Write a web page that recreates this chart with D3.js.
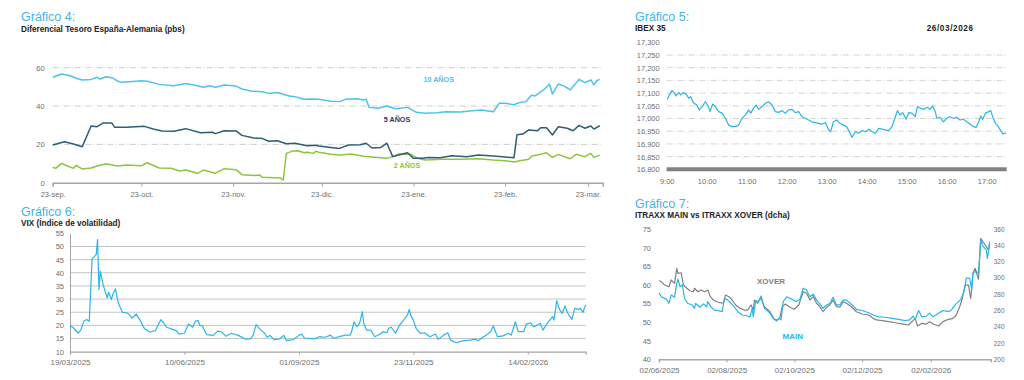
<!DOCTYPE html>
<html>
<head>
<meta charset="utf-8">
<script src="https://cdn.jsdelivr.net/npm/d3@7"></script>
<style>
  body { margin: 0; background: #fff; }
  svg { display: block; font-family: "Liberation Sans", Arial, sans-serif; }
  .title { fill: #41b6e6; font-size: 12.5px; }
  .sub { fill: #222; font-size: 8.2px; font-weight: bold; }
  .tick text { fill: #6f6f6f; }
</style>
</head>
<body>
<script>
// ---------- Gráfico 4: diferencial España-Alemania (pbs) ----------
const y10 = [["2025-09-23",55.0],["2025-09-26",56.7],["2025-09-29",55.8],["2025-10-01",54.5],["2025-10-03",53.6],["2025-10-06",53.9],["2025-10-08",55.0],["2025-10-09",54.1],["2025-10-11",55.3],["2025-10-13",54.8],["2025-10-15",53.0],["2025-10-16",52.4],["2025-10-19",52.7],["2025-10-23",53.2],["2025-10-25",52.9],["2025-10-29",51.3],["2025-11-03",50.6],["2025-11-07",51.8],["2025-11-11",50.6],["2025-11-13",49.8],["2025-11-15",50.6],["2025-11-17",49.8],["2025-11-20",51.0],["2025-11-24",50.4],["2025-11-26",48.9],["2025-11-29",47.8],["2025-12-03",47.5],["2025-12-05",46.6],["2025-12-08",47.1],["2025-12-12",45.2],["2025-12-14",44.9],["2025-12-17",43.5],["2025-12-19",43.7],["2025-12-22",43.5],["2025-12-26",42.5],["2025-12-29",42.3],["2025-12-31",43.5],["2026-01-04",43.8],["2026-01-06",43.1],["2026-01-07",43.5],["2026-01-08",39.3],["2026-01-11",38.8],["2026-01-14",40.0],["2026-01-17",38.6],["2026-01-21",39.3],["2026-01-24",36.7],["2026-01-27",36.2],["2026-01-31",36.5],["2026-02-03",37.0],["2026-02-08",36.9],["2026-02-11",37.4],["2026-02-15",37.9],["2026-02-19",37.0],["2026-02-21",41.4],["2026-02-23",41.4],["2026-02-26",40.7],["2026-02-28",41.9],["2026-03-02",42.3],["2026-03-04",45.7],["2026-03-05",45.2],["2026-03-08",48.4],["2026-03-10",51.5],["2026-03-11",46.3],["2026-03-13",51.5],["2026-03-15",50.4],["2026-03-17",48.4],["2026-03-20",53.9],["2026-03-22",52.2],["2026-03-24",53.6],["2026-03-25",51.0],["2026-03-26",53.2],["2026-03-27",53.9]];
const y5 = [["2025-09-23",19.7],["2025-09-27",21.4],["2025-09-30",20.2],["2025-10-03",18.8],["2025-10-06",29.6],["2025-10-08",29.2],["2025-10-10",31.1],["2025-10-13",31.1],["2025-10-14",28.9],["2025-10-18",28.9],["2025-10-24",29.4],["2025-10-27",28.0],["2025-10-30",27.0],["2025-11-03",26.8],["2025-11-07",28.2],["2025-11-12",26.1],["2025-11-16",26.3],["2025-11-17",25.6],["2025-11-20",27.1],["2025-11-24",27.0],["2025-11-26",24.7],["2025-11-30",23.3],["2025-12-03",23.0],["2025-12-05",21.6],["2025-12-08",21.9],["2025-12-11",20.3],["2025-12-14",20.6],["2025-12-18",19.3],["2025-12-21",19.5],["2025-12-22",19.1],["2025-12-26",18.4],["2025-12-29",17.9],["2026-01-01",19.7],["2026-01-05",19.8],["2026-01-07",20.6],["2026-01-09",18.1],["2026-01-12",18.4],["2026-01-14",20.6],["2026-01-16",13.6],["2026-01-18",14.4],["2026-01-21",15.6],["2026-01-23",12.7],["2026-01-26",12.7],["2026-01-28",13.2],["2026-02-01",13.0],["2026-02-05",14.1],["2026-02-10",13.6],["2026-02-14",14.4],["2026-02-19",13.9],["2026-02-22",13.6],["2026-02-26",13.0],["2026-02-27",25.0],["2026-03-01",25.4],["2026-03-03",27.5],["2026-03-06",27.1],["2026-03-07",28.7],["2026-03-09",28.7],["2026-03-11",24.9],["2026-03-13",29.2],["2026-03-16",28.4],["2026-03-18",27.1],["2026-03-20",29.9],["2026-03-22",28.4],["2026-03-24",29.6],["2026-03-25",28.0],["2026-03-27",29.7]];
const y2 = [["2025-09-23",8.0],["2025-09-24",7.5],["2025-09-26",10.1],["2025-09-28",8.7],["2025-09-30",7.5],["2025-10-01",9.1],["2025-10-03",7.1],["2025-10-06",7.7],["2025-10-08",8.7],["2025-10-11",9.9],["2025-10-15",8.7],["2025-10-18",9.2],["2025-10-23",8.9],["2025-10-25",10.4],["2025-10-29",7.7],["2025-11-02",7.5],["2025-11-05",6.1],["2025-11-07",6.6],["2025-11-11",4.9],["2025-11-13",6.6],["2025-11-17",4.9],["2025-11-20",7.3],["2025-11-24",6.8],["2025-11-26",4.2],["2025-11-30",3.7],["2025-12-02",4.0],["2025-12-03",2.8],["2025-12-09",2.5],["2025-12-10",1.4],["2025-12-11",15.3],["2025-12-13",16.5],["2025-12-15",16.7],["2025-12-17",15.6],["2025-12-18",15.9],["2025-12-20",15.3],["2025-12-21",16.4],["2025-12-22",15.9],["2025-12-26",14.8],["2025-12-29",14.4],["2026-01-02",15.0],["2026-01-06",13.8],["2026-01-09",13.4],["2026-01-14",12.7],["2026-01-16",13.6],["2026-01-18",15.0],["2026-01-22",14.8],["2026-01-24",13.2],["2026-01-25",12.5],["2026-01-27",11.8],["2026-02-02",12.2],["2026-02-08",12.2],["2026-02-14",12.5],["2026-02-19",11.8],["2026-02-23",11.5],["2026-02-26",10.8],["2026-02-28",11.5],["2026-03-03",12.2],["2026-03-04",13.9],["2026-03-07",14.8],["2026-03-09",15.6],["2026-03-11",13.2],["2026-03-13",14.8],["2026-03-17",12.5],["2026-03-19",14.8],["2026-03-22",13.6],["2026-03-24",15.3],["2026-03-25",13.2],["2026-03-27",14.4]];
const spreadTicks = ["2025-09-23","2025-10-23","2025-11-23","2025-12-23","2026-01-23","2026-02-23","2026-03-23"];
const spreadTickLabels = ["23-sep.","23-oct.","23-nov.","23-dic.","23-ene.","23-feb.","23-mar."];
const spreadYTicks = [0, 20, 40, 60];

// ---------- Gráfico 5: IBEX 35 intradía ----------
const ibex = [["09:01",17076],["09:04",17093],["09:08",17110],["09:11",17102],["09:14",17089],["09:18",17102],["09:21",17093],["09:25",17102],["09:29",17097],["09:33",17080],["09:36",17086],["09:40",17062],["09:45",17053],["09:49",17034],["09:53",17047],["09:58",17066],["10:03",17044],["10:05",17027],["10:09",17057],["10:13",17047],["10:18",17027],["10:23",17021],["10:28",17001],["10:33",16974],["10:38",16968],["10:43",16968],["10:48",16974],["10:53",17001],["10:58",17014],["11:03",17034],["11:06",17021],["11:10",17040],["11:14",17053],["11:18",17036],["11:23",17047],["11:28",17060],["11:33",17066],["11:38",17053],["11:43",17027],["11:48",17024],["11:53",17031],["11:58",17021],["12:03",17034],["12:08",17036],["12:13",17023],["12:18",17027],["12:23",17007],["12:28",17001],["12:33",16994],["12:38",16987],["12:43",16984],["12:48",16981],["12:53",16977],["12:58",16984],["13:03",16955],["13:06",16948],["13:10",16987],["13:15",16994],["13:20",16981],["13:25",16974],["13:30",16968],["13:35",16942],["13:38",16926],["13:43",16948],["13:48",16942],["13:53",16952],["13:58",16948],["14:03",16958],["14:08",16948],["14:13",16942],["14:18",16961],["14:23",16958],["14:28",16955],["14:33",16952],["14:38",16968],["14:43",17007],["14:46",17031],["14:50",17014],["14:54",17023],["14:59",16997],["15:03",17023],["15:08",17021],["15:13",17007],["15:16",17047],["15:21",17040],["15:26",17036],["15:31",17044],["15:35",17036],["15:39",17049],["15:43",17027],["15:45",17001],["15:50",17005],["15:55",16987],["16:00",17001],["16:05",17007],["16:10",17001],["16:15",17005],["16:20",16994],["16:25",16997],["16:30",16987],["16:35",16978],["16:40",16968],["16:44",16965],["16:48",16987],["16:51",17010],["16:54",16997],["16:58",17021],["17:03",17027],["17:06",17031],["17:09",17007],["17:13",16981],["17:16",16974],["17:19",16961],["17:23",16944],["17:25",16939],["17:29",16944]];
const ibexHours = ["9:00","10:00","11:00","12:00","13:00","14:00","15:00","16:00","17:00"];
const ibexYTicks = [16800,16850,16900,16950,17000,17050,17100,17150,17200,17250,17300];

// ---------- Gráfico 6: VIX ----------
const vix = [["2025-03-19",19.9],["2025-03-21",19.3],["2025-03-25",17.1],["2025-03-27",18.4],["2025-03-29",21.6],["2025-03-31",22.2],["2025-04-02",21.6],["2025-04-04",45.3],["2025-04-07",46.9],["2025-04-08",52.6],["2025-04-09",33.6],["2025-04-10",40.6],["2025-04-12",35.5],["2025-04-15",30.4],["2025-04-16",32.6],["2025-04-18",29.8],["2025-04-19",31.7],["2025-04-21",33.9],["2025-04-23",28.5],["2025-04-26",25.0],["2025-04-29",24.8],["2025-05-01",24.1],["2025-05-03",22.8],["2025-05-06",24.3],["2025-05-09",21.8],["2025-05-12",18.7],["2025-05-16",17.5],["2025-05-20",18.0],["2025-05-22",20.3],["2025-05-24",22.2],["2025-05-26",20.9],["2025-05-28",19.3],["2025-06-01",18.6],["2025-06-04",18.0],["2025-06-06",16.7],["2025-06-10",17.1],["2025-06-13",20.5],["2025-06-16",19.3],["2025-06-18",21.6],["2025-06-20",21.8],["2025-06-21",20.0],["2025-06-23",19.9],["2025-06-26",16.5],["2025-07-01",16.2],["2025-07-04",17.8],["2025-07-07",17.5],["2025-07-10",15.9],["2025-07-14",17.0],["2025-07-19",16.2],["2025-07-24",14.8],["2025-07-28",14.9],["2025-07-30",16.5],["2025-08-01",20.3],["2025-08-04",18.4],["2025-08-07",17.1],["2025-08-09",15.5],["2025-08-11",16.2],["2025-08-14",14.6],["2025-08-18",14.9],["2025-08-21",16.2],["2025-08-23",14.2],["2025-08-28",14.6],["2025-09-01",16.2],["2025-09-03",16.7],["2025-09-05",15.2],["2025-09-12",14.9],["2025-09-16",15.7],["2025-09-20",15.5],["2025-09-24",16.3],["2025-09-26",15.1],["2025-09-30",15.7],["2025-10-05",16.3],["2025-10-08",16.3],["2025-10-09",17.2],["2025-10-11",21.4],["2025-10-13",19.5],["2025-10-15",20.8],["2025-10-17",25.2],["2025-10-18",20.8],["2025-10-20",18.2],["2025-10-23",18.2],["2025-10-26",15.7],["2025-10-30",16.7],["2025-11-01",17.6],["2025-11-04",17.2],["2025-11-05",18.9],["2025-11-07",19.3],["2025-11-10",17.0],["2025-11-13",20.1],["2025-11-17",22.7],["2025-11-19",24.3],["2025-11-20",26.1],["2025-11-21",23.9],["2025-11-23",22.0],["2025-11-25",18.9],["2025-11-28",17.0],["2025-12-01",17.2],["2025-12-05",15.7],["2025-12-09",16.7],["2025-12-11",14.7],["2025-12-15",16.3],["2025-12-18",17.2],["2025-12-20",14.4],["2025-12-24",13.4],["2025-12-29",14.1],["2026-01-03",14.4],["2026-01-07",14.8],["2026-01-09",14.2],["2026-01-13",15.7],["2026-01-15",16.3],["2026-01-18",17.6],["2026-01-20",19.8],["2026-01-23",15.7],["2026-01-27",16.0],["2026-01-31",17.0],["2026-02-02",16.3],["2026-02-05",21.4],["2026-02-07",17.6],["2026-02-11",17.6],["2026-02-13",20.5],["2026-02-16",21.0],["2026-02-18",19.5],["2026-02-21",20.1],["2026-02-23",20.8],["2026-02-25",18.2],["2026-02-28",20.8],["2026-03-02",22.0],["2026-03-04",23.3],["2026-03-05",22.0],["2026-03-07",29.4],["2026-03-09",26.1],["2026-03-11",24.6],["2026-03-13",27.4],["2026-03-15",24.6],["2026-03-18",22.3],["2026-03-20",26.5],["2026-03-23",26.1],["2026-03-24",26.5],["2026-03-26",25.0],["2026-03-28",27.8]];
const vixTicks = ["2025-03-19","2025-06-10","2025-09-01","2025-11-23","2026-02-14"];
const vixYTicks = [10,15,20,25,30,35,40,45,50,55];

// ---------- Gráfico 7: iTraxx Main vs Crossover ----------
const main = [["2025-06-02",57.9],["2025-06-04",56.8],["2025-06-09",56.1],["2025-06-11",55.0],["2025-06-13",57.3],["2025-06-16",56.7],["2025-06-18",60.4],["2025-06-19",61.5],["2025-06-21",59.5],["2025-06-23",60.0],["2025-06-25",56.4],["2025-06-28",55.0],["2025-07-02",54.6],["2025-07-04",53.7],["2025-07-05",55.0],["2025-07-09",54.0],["2025-07-12",54.9],["2025-07-15",54.1],["2025-07-16",55.5],["2025-07-19",54.0],["2025-07-22",53.2],["2025-07-25",53.1],["2025-07-29",52.8],["2025-07-31",56.4],["2025-08-03",55.9],["2025-08-06",55.0],["2025-08-09",54.0],["2025-08-12",52.8],["2025-08-16",51.9],["2025-08-20",51.7],["2025-08-23",51.4],["2025-08-25",53.7],["2025-08-26",51.4],["2025-08-28",55.5],["2025-08-30",55.0],["2025-09-02",57.0],["2025-09-05",53.7],["2025-09-10",52.4],["2025-09-13",51.0],["2025-09-16",50.3],["2025-09-18",51.0],["2025-09-20",50.6],["2025-09-22",55.5],["2025-09-25",56.8],["2025-09-30",56.1],["2025-10-04",55.5],["2025-10-07",56.1],["2025-10-10",59.1],["2025-10-13",58.6],["2025-10-16",56.8],["2025-10-19",57.5],["2025-10-22",55.9],["2025-10-25",54.9],["2025-10-28",53.7],["2025-10-31",54.6],["2025-11-03",55.0],["2025-11-06",56.7],["2025-11-09",54.6],["2025-11-12",54.6],["2025-11-15",55.9],["2025-11-18",55.9],["2025-11-23",54.6],["2025-11-27",53.4],["2025-12-02",53.1],["2025-12-08",52.5],["2025-12-12",51.9],["2025-12-17",51.4],["2025-12-23",51.3],["2025-12-29",51.0],["2026-01-04",50.7],["2026-01-10",50.4],["2026-01-14",50.6],["2026-01-17",51.6],["2026-01-19",50.7],["2026-01-22",53.1],["2026-01-25",51.4],["2026-01-29",51.6],["2026-02-01",52.4],["2026-02-04",51.4],["2026-02-09",52.4],["2026-02-13",53.1],["2026-02-18",52.8],["2026-02-21",53.4],["2026-02-24",54.6],["2026-02-27",55.5],["2026-03-01",56.1],["2026-03-04",58.2],["2026-03-06",61.8],["2026-03-09",61.8],["2026-03-11",58.6],["2026-03-12",63.1],["2026-03-15",63.7],["2026-03-17",63.1],["2026-03-19",72.0],["2026-03-21",70.4],["2026-03-24",69.4],["2026-03-25",67.1],["2026-03-26",68.9],["2026-03-27",71.6]];
const xover = [["2025-06-02",296.5],["2025-06-04",295.3],["2025-06-07",291.2],["2025-06-11",289.1],["2025-06-13",297.4],["2025-06-16",293.3],["2025-06-18",311.7],["2025-06-19",305.6],["2025-06-22",306.3],["2025-06-24",291.2],["2025-06-27",287.2],["2025-06-30",284.2],["2025-07-03",283.0],["2025-07-04",287.2],["2025-07-07",283.0],["2025-07-10",285.1],["2025-07-13",283.0],["2025-07-16",285.1],["2025-07-18",277.7],["2025-07-21",272.8],["2025-07-24",270.7],["2025-07-27",269.5],["2025-07-30",268.8],["2025-08-01",279.0],["2025-08-04",276.9],["2025-08-07",272.8],["2025-08-10",266.7],["2025-08-14",262.6],["2025-08-18",260.5],["2025-08-21",260.5],["2025-08-24",266.7],["2025-08-26",260.5],["2025-08-27",272.8],["2025-08-30",270.7],["2025-09-02",274.9],["2025-09-05",264.6],["2025-09-10",258.4],["2025-09-14",249.1],["2025-09-17",248.3],["2025-09-19",251.6],["2025-09-21",264.6],["2025-09-24",267.9],["2025-09-28",263.9],["2025-10-02",261.4],["2025-10-06",266.7],["2025-10-10",283.0],["2025-10-13",281.0],["2025-10-16",272.8],["2025-10-19",276.9],["2025-10-22",268.8],["2025-10-25",264.6],["2025-10-28",258.4],["2025-10-31",263.9],["2025-11-03",266.7],["2025-11-06",272.8],["2025-11-09",264.6],["2025-11-12",263.9],["2025-11-15",270.7],["2025-11-18",268.8],["2025-11-23",263.9],["2025-11-27",258.4],["2025-12-02",255.6],["2025-12-08",254.4],["2025-12-12",250.3],["2025-12-15",248.3],["2025-12-20",247.4],["2025-12-26",246.2],["2026-01-01",244.9],["2026-01-08",243.3],["2026-01-13",242.1],["2026-01-16",246.2],["2026-01-19",250.3],["2026-01-21",240.9],["2026-01-25",244.2],["2026-01-29",243.3],["2026-02-01",246.2],["2026-02-04",243.3],["2026-02-09",240.9],["2026-02-13",246.2],["2026-02-18",249.1],["2026-02-22",250.3],["2026-02-25",254.4],["2026-02-28",264.6],["2026-03-02",272.8],["2026-03-05",291.2],["2026-03-08",291.2],["2026-03-10",274.9],["2026-03-12",305.6],["2026-03-14",311.7],["2026-03-17",298.2],["2026-03-19",348.6],["2026-03-21",344.4],["2026-03-24",338.3],["2026-03-26",334.2],["2026-03-27",342.4]];
const itraxxTicks = ["2025-06-02","2025-08-02","2025-10-02","2025-12-02","2026-02-02"];
const mainYTicks = [40,45,50,55,60,65,70,75];
const xoverYTicks = [200,220,240,260,280,300,320,340,360];

const parseDay = d3.timeParse("%Y-%m-%d");
const parseTime = d3.timeParse("%H:%M");
const fmtDay = d3.timeFormat("%d/%m/%Y");

const svg = d3.select("body").append("svg")
    .attr("width", 1024)
    .attr("height", 380);

function heading(x, y, title, sub, subY){
    svg.append("text").attr("class", "title").attr("x", x).attr("y", y).text(title);
    svg.append("text").attr("class", "sub").attr("x", x).attr("y", subY).text(sub);
}

function drawLine(data, x, y, color, width){
    svg.append("path")
        .datum(data)
        .attr("fill", "none")
        .attr("stroke", color)
        .attr("stroke-width", width)
        .attr("stroke-linejoin", "round")
        .attr("d", d3.line().x(d => x(d[0])).y(d => y(d[1])));
}

const toDays = arr => arr.map(d => [parseDay(d[0]), d[1]]);

// ===== Gráfico 4 =====
heading(21, 21, "Gráfico 4:", "Diferencial Tesoro España-Alemania (pbs)", 31.5);
{
    const x = d3.scaleTime().domain([parseDay("2025-09-23"), parseDay("2026-03-28")]).range([52.7, 602.7]);
    const y = d3.scaleLinear().domain([0, 60]).range([182.7, 67.7]);

    svg.append("g").selectAll("line")
        .data(spreadYTicks.filter(v => v > 0))
        .enter().append("line")
        .attr("x1", 52.7).attr("x2", 602.7)
        .attr("y1", d => y(d)).attr("y2", d => y(d))
        .attr("stroke", "#cfcfcf").attr("stroke-width", 1)
        .attr("stroke-dasharray", "6,2,1,2");

    const yAxis = d3.axisLeft(y).tickValues(spreadYTicks).tickSize(0).tickPadding(8);
    svg.append("g").attr("transform", "translate(52.7,0)").call(yAxis)
        .call(g => g.select(".domain").remove())
        .selectAll("text").style("font-size", "7.5px");

    const xAxis = d3.axisBottom(x)
        .tickValues(spreadTicks.map(parseDay))
        .tickFormat((d, i) => spreadTickLabels[i])
        .tickSizeOuter(0).tickSize(4).tickPadding(5);
    const gx = svg.append("g").attr("transform", "translate(0,182.7)").call(xAxis);
    gx.select(".domain").attr("stroke", "#a6a6a6").attr("stroke-width", 1.5);
    gx.selectAll(".tick line").attr("stroke", "#a6a6a6");
    gx.selectAll("text").style("font-size", "7.5px");

    drawLine(toDays(y10), x, y, "#4ec3ea", 1.5);
    drawLine(toDays(y2), x, y, "#8cc63e", 1.5);
    drawLine(toDays(y5), x, y, "#2e5e72", 1.5);

    const labels = [["10 AÑOS", 438.7, 81.7, "#4ec3ea"], ["5 AÑOS", 397, 122, "#1f3a5f"], ["2 AÑOS", 407, 167.7, "#8cc63e"]];
    svg.append("g").selectAll("text").data(labels).enter().append("text")
        .attr("x", d => d[1]).attr("y", d => d[2])
        .attr("text-anchor", "middle")
        .attr("fill", d => d[3])
        .style("font-size", "7.2px").style("font-weight", "bold")
        .text(d => d[0]);
}

// ===== Gráfico 5 =====
heading(635, 21, "Gráfico 5:", "IBEX 35", 30.7);
svg.append("text").attr("class", "sub").attr("x", 926.7).attr("y", 30.7)
    .style("letter-spacing", "0.6px").text("26/03/2026");
{
    const x = d3.scaleTime().domain([parseTime("09:00"), parseTime("17:30")]).range([666.7, 1006.7]);
    const y = d3.scaleLinear().domain([16800, 17300]).range([169.3, 42.3]);

    svg.append("g").selectAll("line")
        .data(ibexYTicks.filter(v => v > 16800 && v < 17300))
        .enter().append("line")
        .attr("x1", 666.7).attr("x2", 1006.7)
        .attr("y1", d => y(d)).attr("y2", d => y(d))
        .attr("stroke", "#d4d4d4").attr("stroke-width", 1)
        .attr("stroke-dasharray", "6,2,1,2");

    const yAxis = d3.axisLeft(y).tickValues(ibexYTicks).tickSize(0).tickPadding(7)
        .tickFormat(d3.format(","));
    svg.append("g").attr("transform", "translate(666.7,0)").call(yAxis)
        .call(g => g.select(".domain").remove())
        .selectAll("text").style("font-size", "7.5px");

    svg.append("line")
        .attr("x1", 666.7).attr("x2", 1006.7)
        .attr("y1", y(16800)).attr("y2", y(16800))
        .attr("stroke", "#808080").attr("stroke-width", 4);

    const xAxis = d3.axisBottom(x)
        .tickValues(ibexHours.map(h => parseTime(h.padStart(5, "0"))))
        .tickFormat((d, i) => ibexHours[i])
        .tickSize(0).tickPadding(9);
    svg.append("g").attr("transform", "translate(0,169.3)").call(xAxis)
        .call(g => g.select(".domain").remove())
        .selectAll("text").style("font-size", "7.5px");

    drawLine(ibex.map(d => [parseTime(d[0]), d[1]]), x, y, "#29b6e6", 1.2);
}

// ===== Gráfico 6 =====
heading(21, 216, "Gráfico 6:", "VIX (Índice de volatilidad)", 225.7);
{
    const x = d3.scaleTime().domain([parseDay("2025-03-19"), parseDay("2026-03-28")]).range([70, 585.7]);
    const y = d3.scaleLinear().domain([10, 55]).range([351.7, 233.3]);

    svg.append("g").selectAll("line")
        .data(vixYTicks.filter(v => v > 10 && v < 55))
        .enter().append("line")
        .attr("x1", 70).attr("x2", 585.7)
        .attr("y1", d => y(d)).attr("y2", d => y(d))
        .attr("stroke", "#c4c4c4").attr("stroke-width", 1);

    const yAxis = d3.axisLeft(y).tickValues(vixYTicks).tickSize(0).tickPadding(6);
    const gy = svg.append("g").attr("transform", "translate(70,0)").call(yAxis);
    gy.select(".domain").attr("stroke", "#a6a6a6");
    gy.selectAll("text").style("font-size", "7.5px");

    const xAxis = d3.axisBottom(x)
        .tickValues(vixTicks.map(parseDay))
        .tickFormat(fmtDay)
        .tickSizeOuter(0).tickSize(3).tickPadding(5);
    const gx = svg.append("g").attr("transform", "translate(0,351.7)").call(xAxis);
    gx.select(".domain").attr("stroke", "#a6a6a6").attr("stroke-width", 1.2);
    gx.selectAll(".tick line").attr("stroke", "#a6a6a6");
    gx.selectAll("text").style("font-size", "8px");

    drawLine(toDays(vix), x, y, "#29b6e6", 1.2);
}

// ===== Gráfico 7 =====
heading(635, 208, "Gráfico 7:", "ITRAXX MAIN vs ITRAXX XOVER (dcha)", 217.7);
{
    const x = d3.scaleTime().domain([parseDay("2025-06-02"), parseDay("2026-03-28")]).range([659, 990.7]);
    const yL = d3.scaleLinear().domain([40, 75]).range([359.3, 229]);
    const yR = d3.scaleLinear().domain([200, 360]).range([359.3, 229]);

    const gl = svg.append("g").attr("transform", "translate(659,0)")
        .call(d3.axisLeft(yL).tickValues(mainYTicks).tickSize(0).tickPadding(8));
    gl.select(".domain").remove();
    gl.selectAll("text").style("font-size", "7.5px");

    const gr = svg.append("g").attr("transform", "translate(990.7,0)")
        .call(d3.axisRight(yR).tickValues(xoverYTicks).tickSize(0).tickPadding(3));
    gr.select(".domain").remove();
    gr.selectAll("text").style("font-size", "6.5px");

    const xAxis = d3.axisBottom(x)
        .tickValues(itraxxTicks.map(parseDay))
        .tickFormat(fmtDay)
        .tickSizeOuter(0).tickSize(3).tickPadding(5);
    const gx = svg.append("g").attr("transform", "translate(0,359.3)").call(xAxis);
    gx.select(".domain").attr("stroke", "#a6a6a6").attr("stroke-width", 1.5);
    gx.selectAll(".tick line").attr("stroke", "#a6a6a6");
    gx.selectAll("text").style("font-size", "8px");

    drawLine(toDays(xover), x, yR, "#808080", 1.2);
    drawLine(toDays(main), x, yL, "#29b6e6", 1.2);

    svg.append("text").attr("x", 771).attr("y", 284.3).attr("text-anchor", "middle")
        .attr("fill", "#7f7f7f").style("font-size", "8px").style("font-weight", "bold").text("XOVER");
    svg.append("text").attr("x", 792.7).attr("y", 339).attr("text-anchor", "middle")
        .attr("fill", "#29b6e6").style("font-size", "8px").style("font-weight", "bold").text("MAIN");
}
</script>
</body>
</html>
